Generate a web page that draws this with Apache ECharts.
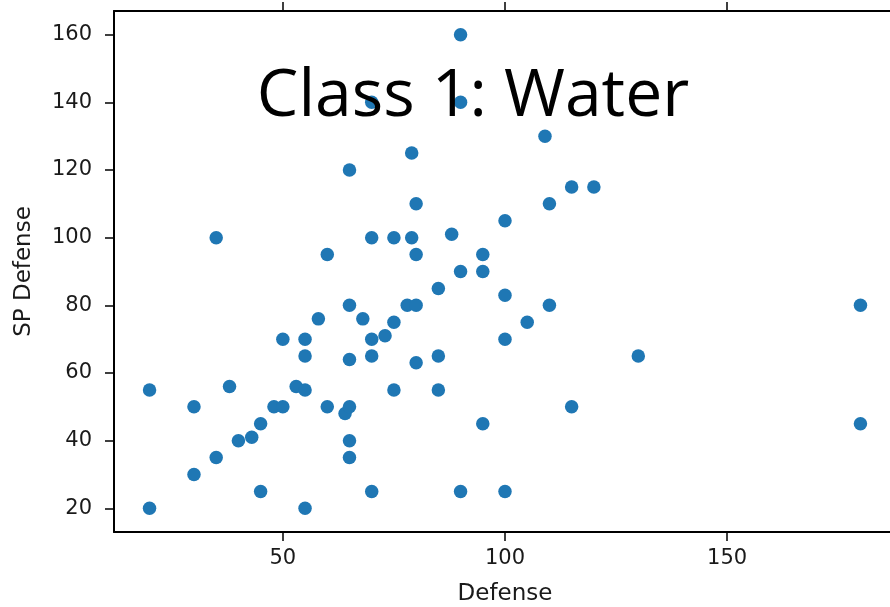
<!DOCTYPE html>
<html>
<head>
<meta charset="utf-8">
<script src="https://cdn.jsdelivr.net/npm/echarts@6/dist/echarts.min.js"></script>
<style>
html,body{margin:0;padding:0;background:#fff;}
#chart{width:890px;height:607px;}
</style>
</head>
<body>
<div id="chart"></div>
<script>
const titleText = "Class 1: Water";
const xName = "Defense";
const yName = "SP Defense";
const xTicks = [50, 100, 150];
const yTicks = [20, 40, 60, 80, 100, 120, 140, 160];
const defense = [35, 65, 70, 60, 70, 75, 90, 90, 109, 79, 80, 115, 120, 110, 100, 79, 88, 80, 95, 90, 95, 85, 100, 78, 80, 110, 105, 100, 80, 85, 130, 85, 115, 95, 90, 100, 180, 180, 20, 30, 38, 50, 55, 55, 58, 65, 68, 65, 70, 73, 75, 70, 75, 53, 55, 48, 50, 60, 64, 65, 45, 40, 43, 35, 65, 65, 30, 45, 70, 20, 55];
const spDefense = [100, 120, 140, 95, 100, 100, 160, 140, 130, 125, 110, 115, 115, 110, 105, 100, 101, 95, 95, 90, 90, 85, 83, 80, 80, 80, 75, 70, 63, 65, 65, 55, 50, 45, 25, 25, 80, 45, 55, 50, 56, 70, 70, 65, 76, 80, 76, 64, 70, 71, 75, 65, 55, 56, 55, 50, 50, 50, 48, 50, 45, 40, 41, 35, 40, 35, 30, 25, 25, 20, 20];

const points = defense.map((d, i) => [d, spDefense[i]]);
const labelFont = { fontFamily: 'DejaVu Sans', fontSize: 21, color: '#1a1a1a' };
const nameFont = { fontFamily: 'DejaVu Sans', fontSize: 23, color: '#1a1a1a' };

const chart = echarts.init(document.getElementById('chart'), null, { renderer: 'canvas' });
chart.setOption({
  animation: false,
  backgroundColor: '#ffffff',
  grid: { left: 114, top: 11, right: -6, bottom: 75, containLabel: false, outerBoundsMode: 'none' },
  xAxis: [{
    type: 'value', position: 'bottom', min: 12, max: 188,
    name: xName, nameLocation: 'middle', nameGap: 51,
    nameTextStyle: nameFont,
    axisLine: { show: true, lineStyle: { color: '#000', width: 2 } },
    axisTick: { show: true, length: 9, lineStyle: { color: '#000', width: 1.5 }, customValues: xTicks },
    axisLabel: Object.assign({ margin: 16, customValues: xTicks }, labelFont),
    splitLine: { show: false }
  }, {
    type: 'value', position: 'top', min: 12, max: 188,
    axisLine: { show: true, onZero: false, lineStyle: { color: '#000', width: 2 } },
    axisTick: { show: true, length: 9, lineStyle: { color: '#000', width: 1.5 }, customValues: xTicks },
    axisLabel: { show: false },
    splitLine: { show: false }
  }],
  yAxis: [{
    type: 'value', min: 13, max: 167,
    name: yName, nameLocation: 'middle', nameGap: 78,
    nameTextStyle: nameFont,
    axisLine: { show: true, onZero: false, lineStyle: { color: '#000', width: 2 } },
    axisTick: { show: true, length: 9, lineStyle: { color: '#000', width: 1.5 }, customValues: yTicks },
    axisLabel: Object.assign({ margin: 22, customValues: yTicks }, labelFont),
    splitLine: { show: false }
  }],
  series: [{
    type: 'scatter',
    xAxisIndex: 0, yAxisIndex: 0,
    data: points,
    symbol: 'circle',
    symbolSize: 13.5,
    itemStyle: { color: '#1f77b4', opacity: 1 },
    z: 2
  }],
  graphic: [{
    type: 'text',
    z: 100,
    x: 473, y: 64,
    style: {
      text: titleText,
      x: 0, y: 0,
      fontFamily: 'Open Sans',
      fontSize: 66,
      fill: '#000',
      textAlign: 'center',
      textVerticalAlign: 'top'
    }
  }]
});
</script>
</body>
</html>
